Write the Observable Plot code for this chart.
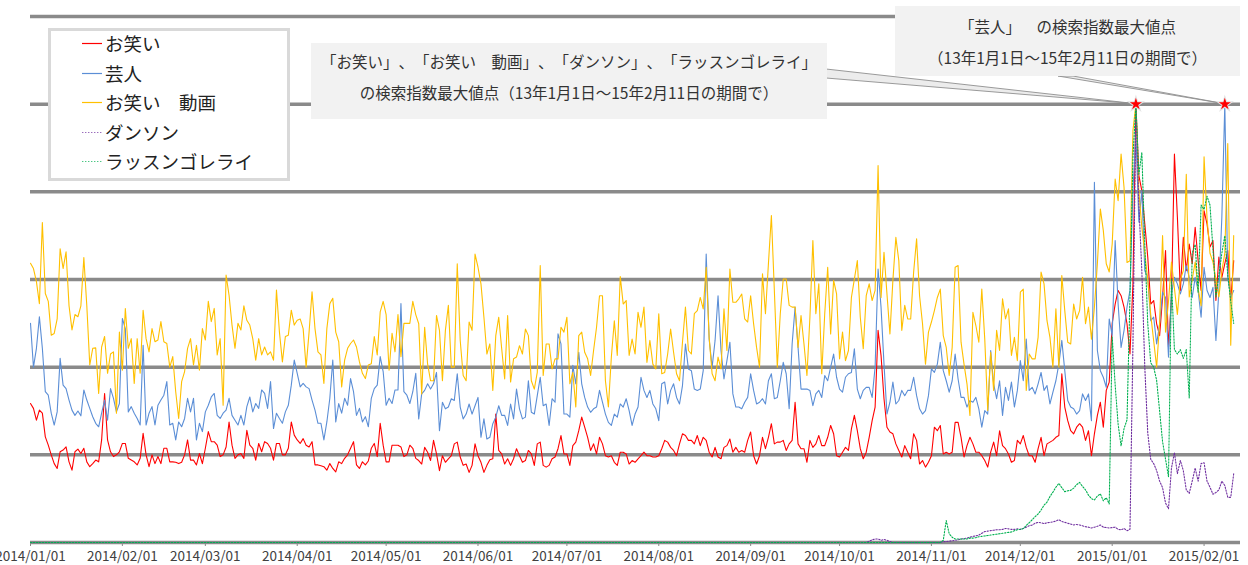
<!DOCTYPE html>
<html><head><meta charset="utf-8">
<script src="https://cdn.jsdelivr.net/npm/d3@7"></script>
<script src="https://cdn.jsdelivr.net/npm/@observablehq/plot@0.6"></script>
<style>
html,body{margin:0;padding:0;background:#fff;}
#wrap{position:relative;width:1248px;height:565px;overflow:hidden;font-family:"Noto Sans CJK JP","Noto Sans",sans-serif;text-spacing-trim:space-all;}
#wrap svg.plot{position:absolute;left:0;top:0;}
.legend{position:absolute;left:48px;top:28px;width:242px;height:153px;box-sizing:border-box;border:3px solid #d9d9d9;background:#fff;padding-left:31px;}
.legend .item{height:29.6px;display:flex;align-items:center;font-size:18.5px;color:#222;white-space:nowrap;}
.legend .item:first-child{margin-top:-2.8px;}
.legend .item svg{margin-right:3px;}
.ann{position:absolute;background:#f2f2f2;color:#333;font-size:15.5px;text-align:center;white-space:nowrap;text-spacing-trim:space-all;font-feature-settings:"palt" 0;}
.ann1{left:311px;top:43px;width:516px;height:76px;line-height:30.5px;padding-top:3px;box-sizing:border-box;}
.ann2{left:895px;top:6px;width:345px;height:70px;line-height:31px;padding-top:4.5px;box-sizing:border-box;}
</style></head><body><div id="wrap"></div>
<script>
const START = "2014/01/01";
const tickLabels = ["2014/01/01","2014/02/01","2014/03/01","2014/04/01","2014/05/01","2014/06/01","2014/07/01","2014/08/01","2014/09/01","2014/10/01","2014/11/01","2014/12/01","2015/01/01","2015/02/01"];
const gridValues = [0,20,40,60,80,100,120];
const seriesNames = ["お笑い","芸人","お笑い　動画","ダンソン","ラッスンゴレライ"];
const seriesColors = ["#ff0000","#5b8ed6","#ffc000","#7030a0","#00b050"];
const seriesDash = [null,null,null,"1.4 1.6","1.4 1.6"];
const annotation1 = ["「お笑い」、「お笑い　動画」、「ダンソン」、「ラッスンゴレライ」","の検索指数最大値点（13年1月1日～15年2月11日の期間で）"];
const annotation2 = ["「芸人」　の検索指数最大値点","（13年1月1日～15年2月11日の期間で）"];

// お笑い (daily, 2014/01/01 - 2015/02/11)
const owarai = [
31.7,30.6,27.9,30.2,29.5,24.1,22.2,20,18,16.9,
20.7,21.1,21.8,18.4,16.5,20.7,21.3,20.3,21.5,18.4,
17.3,18,18.8,18.4,23.4,34,23.4,20.7,19.6,20,
20.7,22.6,22.6,19.2,18.8,18.4,17.7,19.2,24.9,20,
17.3,20,18,19.6,18,21.5,21.5,18.4,18.4,18.3,
18,18.3,20,23.4,18.8,18.8,17.7,20.3,18,21.5,
25.3,23,23,22.2,19.6,20,21.8,27.5,22.2,19.2,
20,20.3,19.2,25.6,22.2,21.5,18.8,22.6,20.7,23,
22.6,21.5,18.8,22.6,22.6,20,20,21.5,27.5,24.5,
23.4,22.6,23.7,22.2,21.8,23,17.7,17.7,17.5,17.3,
16.5,18,16.9,16.1,18.4,18,19.2,20,21.5,23,
17.7,16.9,18.4,17.7,18.6,21.5,22.6,19.6,27.2,22.2,
18.4,18.4,22.2,22.2,22.2,21.8,19.6,20,22.2,21.5,
19.2,
18.7,17.9,21.7,20.6,18.7,23.3,20.2,16.4,19.8,18.3,
19.1,19.8,22.5,22.9,19.5,17.6,17.9,16.0,17.6,22.5,
19.8,18.3,16.0,17.6,18.9,19.1,29.3,21.0,20.2,17.9,
19.1,17.6,19.1,21.4,19.8,18.3,18.7,21.0,20.2,17.6,
22.5,22.9,17.6,17.2,17.6,19.1,19.5,21.4,24.4,20.2,
20.2,17.6,22.1,22.9,25.5,28.6,26.3,24.0,21.0,22.5,
20.2,24.0,22.5,19.8,19.5,19.8,18.3,17.6,20.6,20.6,
20.2,17.9,18.7,18.3,19.1,19.8,20.6,19.8,19.8,19.5,
19.5,19.8,21.4,23.3,22.9,21.7,21.0,19.8,22.5,24.8,
24.4,23.3,23.3,22.5,24.4,22.1,24.0,23.3,20.6,19.5,
21.7,19.5,19.1,21.7,22.1,23.6,20.6,21.7,20.6,21.0,
20.6,23.3,
25.2,19.8,17.9,19.8,24.0,21.4,24.0,27.1,22.5,22.9,
22.9,23.3,21.0,22.5,23.3,32.0,22.5,21.4,21.4,18.3,
23.3,21.7,22.5,24.4,22.1,22.1,24.0,26.7,24.8,19.8,
19.5,20.6,21.7,21.0,25.9,29.0,25.5,21.4,19.1,20.6,
24.0,27.8,30.9,48.4,42.7,32.8,26.3,25.2,24.8,22.5,
21.0,19.5,22.1,20.6,19.1,24.8,23.3,17.9,18.7,17.2,
18.3,19.8,26.3,25.5,26.7,20.2,20.6,20.2,20.6,27.4,
27.4,24.0,19.5,22.1,24.0,22.5,20.6,20.6,19.8,18.7,
17.2,20.6,22.9,19.8,25.5,22.1,21.4,20.2,18.3,18.7,
23.3,22.5,24.4,21.7,19.8,19.8,18.3,21.4,24.0,19.8,
22.5,22.9,23.3,24.0,24.4,38.5,30.9,27.8,25.5,24.8,
26.3,27.1,
26.3,23.3,25.5,19.8,24.8,29.0,32.0,26.3,34.7,36.6,
50,54.4,57.5,56.3,53.7,49.9,43.0,59.0,100,83.7,
80.3,72.7,65.1,54.4,55.2,49.9,47.2,55.9,66.6,44.5,
55.9,88.6,74.2,57.5,69.6,62.0,68.1,63.6,71.9,64.3,
57.5,75.7,72.7,67.4,68.9,55.2,65.1,60.5,63.6,66.6,
55.2,64.3];

// 芸人
const geinin = [
50,40,44.3,51.5,44.3,34.4,33.6,29.5,26.8,29.8,
42,35.9,35.1,32.5,30.2,29,30,28.9,34.8,32.5,
30.6,28.7,27.2,26.4,29.5,32.5,27.9,35.1,32.9,29.8,
31.7,51.1,48.8,29.8,31,29.5,28.3,26.8,45,26.8,
29.5,31,26.8,31.3,32.5,33.6,36.7,26.8,27.2,23.4,
27.5,26.4,28.3,32.9,29.8,32.9,23.4,27.2,25.3,29.8,
31.3,33.2,34,29,28.3,29.5,30.2,32.9,29,27.9,
26.8,29,26.8,31,33.2,29.8,31.7,30.6,34.8,34,
30.6,36.7,26,29.5,28.3,27.2,29.8,31.3,35.9,41.6,
38.6,35.5,36.3,35.5,35.1,32.5,30.2,27.2,27.2,23.4,
27.5,32.9,41.6,27.5,31.7,29.5,32.9,31.3,37.4,34.4,
29,30.6,27.5,28.7,26.4,32.9,35.1,35.9,42.4,39,
31.3,32.9,31.7,34.8,34.8,54.5,34.4,33.6,31.7,34.4,
38.6,
28.2,33.9,34.7,36.2,35.0,36.2,38.8,25.5,32.0,30.5,
30.9,32.8,32.4,38.5,30.9,28.2,29.3,31.6,29.3,31.2,
33.1,24.0,28.2,23.6,24.0,27.1,28.6,31.2,29.0,29.0,
26.7,31.6,28.2,35.0,30.5,28.2,28.6,36.9,29.7,29.3,
33.5,37.7,31.2,31.6,26.7,32.8,32.0,47.6,45.3,29.3,
29.3,28.6,40.4,36.2,43.4,36.2,33.1,30.9,29.7,30.5,
30.9,34.7,32.0,29.3,27.4,26.7,29.3,28.6,31.6,30.9,
32.8,30.1,26.7,29.3,30.9,37.7,34.7,33.1,34.7,31.6,
30.5,27.8,36.2,36.6,31.6,34.7,36.2,33.1,31.6,35.8,
45.3,39.6,39.2,35.0,34.7,35.0,39.2,65.8,46.4,40.0,
46.1,56.3,43.8,37.3,41.5,45.7,33.9,30.9,30.9,30.5,
32.0,33.1,
38.5,34.7,31.6,32.0,32.8,31.6,36.9,38.5,32.8,33.1,
36.9,41.1,38.5,30.5,45.3,53.7,44.5,35.0,35.0,35.0,
34.7,31.2,33.9,34.7,33.1,38.1,36.9,40.0,43.0,37.7,
35.0,34.3,37.7,38.5,38.8,44.2,35.0,32.8,34.7,35.4,
35.4,33.1,40.0,62.4,53.7,40.7,29.3,32.0,36.6,31.6,
32.4,34.7,33.5,34.7,34.7,37.7,33.5,30.5,29.3,30.1,
33.5,39.6,38.8,40.7,45.7,39.2,36.9,34.3,36.9,43.0,
37.3,33.1,33.1,30.9,32.4,32.0,33.1,30.5,26.3,30.1,
29.3,43.8,36.2,32.8,36.9,29.0,35.4,32.4,36.6,30.9,
34.7,41.5,36.9,46.4,34.7,35.4,33.9,36.2,38.8,34.7,
35.8,31.6,34.3,36.9,40.7,46.1,39.2,32.4,30.9,30.5,
29.3,30.1,
33.9,32.4,33.9,27.8,82.2,43.8,39.2,37.7,35.4,51.0,
47.2,68.9,54.4,44.5,48.4,53.7,57.5,80.3,93,73.1,
80.3,62.0,60.5,50.6,51.4,45.3,49.9,57.1,55.9,42.3,
56.7,60.5,59.0,56.7,59.0,63.2,60.5,55.9,60.5,57.5,
51.4,62.8,57.5,55.9,58.2,46.1,57.5,74.2,100,60.5,
55.9,57.5];

// お笑い　動画
const owaraiDouga = [
63.7,62.5,59.5,54.5,73,56.8,55,47.3,47.7,51,
67,62.5,66.3,54,48.5,52,51.5,54,65,54,
40.5,44.3,44.4,34,44.6,47,38.6,43,43.5,29.5,
48,39.3,53.4,44.3,46.5,36.3,46.5,38.6,53,46.5,
43.5,48.8,45.8,46.2,50.4,45.8,45.4,40,42.4,34.4,
28.3,36.7,39,44.3,46.5,40.5,45,39.3,48.8,46.2,
55,50.4,53.4,42.8,46.5,31.3,61,56.4,49.6,44.3,
50,48.5,54,50.7,49.6,46.5,41.6,46.5,42.8,44.6,
42.8,43.5,41.6,57.6,48,41.2,47,47.3,53,49.6,
50.7,51,48.8,40,48,57.2,48.8,43.5,42.8,36.3,
48.8,54.5,55.7,48,45.8,35.5,41.6,44.3,45.4,46.2,
44.6,41.2,38.6,37.4,40.5,40.8,47,42.8,52.6,55,
52,39.3,47.7,43.5,52,42.4,50,50,50,55,
52,
49.9,33.9,49.1,40.7,36.9,36.9,51.8,48.4,36.9,48.4,
54.1,40.0,40.0,63.6,46.1,38.1,36.9,50.3,48.4,65.8,
62.8,59.0,51.4,43.0,45.3,34.7,47.2,51.4,44.2,37.3,
51.8,36.6,41.9,42.3,44.9,43.0,48.7,47.2,36.9,35.0,
38.8,63.2,38.1,45.3,45.3,39.6,41.9,41.9,49.1,48.0,
51.4,36.2,38.8,30.9,47.2,48.0,43.4,41.9,38.1,43.8,
49.1,56.3,56.3,36.9,30.9,42.3,50.6,42.7,60.7,54.4,
55.2,42.7,46.4,43.0,52.5,49.1,53.7,41.1,46.1,40.7,
39.6,52.2,38.5,38.8,43.0,48.7,43.4,38.5,36.9,45.7,
53.7,43.8,43.0,52.2,52.9,55.9,53.3,62.8,46.8,38.5,
36.9,42.3,39.6,53.3,43.8,62.4,54.8,54.8,55.6,56.7,
51.0,50.3,
56.3,49.9,44.5,40.0,61.3,52.2,63.6,74.6,57.5,40.0,
52.2,60.1,60.1,54.1,53.7,53.7,44.5,51.8,45.3,38.1,
51.4,68.9,52.2,59.0,38.5,52.2,62.8,47.6,59.8,56.7,
41.9,48.0,41.5,43.8,55.9,60.1,64.3,51.4,44.2,56.3,
59.0,55.2,57.5,86.0,55.9,66.2,56.7,47.6,59.8,69.6,
64.3,48.4,54.1,51.0,51.0,61.7,69.3,56.3,49.9,40.7,
48.0,50.3,52.9,55.9,57.8,47.2,44.5,38.1,44.5,62.8,
63.2,45.7,40.7,36.2,29.0,52.5,49.5,45.7,57.8,46.4,
30.1,43.4,34.7,48.4,43.8,55.6,51.0,53.3,42.7,46.8,
41.5,57.1,57.8,34.7,43.0,41.9,41.9,46.8,61.7,59.0,
50.6,46.8,40.0,53.3,40.0,60.9,52.9,45.7,45.3,54.4,
51.0,52.9,
60.5,49.9,53.7,46.4,53.7,63.6,76.1,71.2,63.6,61.7,
68.1,82.9,78.0,88.6,81.0,63.9,64.3,94.0,100,80,
72,66,60,52,46,40,50,70,48,55,
64,58,52,60,62,84,56,60,64,58,
54,88,74,66,64,60,56,62,66,91,
45,70];

// ダンソン
const danson = [
0,0,0,0,0,0,0,0,0,0,0,0,0,0,0,0,0,0,0,0,
0,0,0,0,0,0,0,0,0,0,0,0,0,0,0,0,0,0,0,0,
0,0,0,0,0,0,0,0,0,0,0,0,0,0,0,0,0,0,0,0,
0,0,0,0,0,0,0,0,0,0,0,0,0,0,0,0,0,0,0,0,
0,0,0,0,0,0,0,0,0,0,0,0,0,0,0,0,0,0,0,0,
0,0,0,0,0,0,0,0,0,0,0,0,0,0,0,0,0,0,0,0,
0,0,0,0,0,0,0,0,0,0,0,0,0,0,0,0,0,0,0,0,
0,0,0,0,0,0,0,0,0,0,0,0,0,0,0,0,0,0,0,0,
0,0,0,0,0,0,0,0,0,0,0,0,0,0,0,0,0,0,0,0,
0,0,0,0,0,0,0,0,0,0,0,0,0,0,0,0,0,0,0,0,
0,0,0,0,0,0,0,0,0,0,0,0,0,0,0,0,0,0,0,0,
0,0,0,0,0,0,0,0,0,0,0,0,0,0,0,0,0,0,0,0,
0,0,0,0,0,0,0,0,0,0,0,0,0,0,0,0,0,0,0,0,
0,0,0,0,0,0,0,0,0,0,0,0,0,0,0,0,0,0,0,0,
0,0,0,
0.3,0.6,0.8,0.8,0.5,0.7,0.5,0.2,
0,0,0,0,0,0,0,0,0,0,0,0,0,0,0,0,0,
0.2,0.2,0.3,0.4,0.5,0.6,0.8,0.9,1.0,1.2,
1.4,1.5,1.7,2.1,2.5,2.6,2.7,2.8,2.9,2.9,
3.0,3.2,3.1,3.0,3.0,3.1,3.0,3.2,3.5,3.8,
4.0,4.4,4.6,4.5,4.3,4.5,4.6,4.7,4.9,5.2,
4.8,4.6,4.4,4.2,4.0,4.1,4.0,3.8,3.6,3.5,
3.3,3.5,3.7,4.0,3.5,3.4,3.3,3.4,3.5,3.0,
2.9,3.2,2.7,3.0,
45,100,77,62,40,25,19,18,16.4,14,
12.5,9,7.7,17,20.5,15.7,18.7,16.4,12,11.2,
14,17,14,18,18.2,14,12.6,11,11.4,12,
14,13,10.3,10.3,15.7];

// ラッスンゴレライ
const rassun = [
0,0,0,0,0,0,0,0,0,0,0,0,0,0,0,0,0,0,0,0,
0,0,0,0,0,0,0,0,0,0,0,0,0,0,0,0,0,0,0,0,
0,0,0,0,0,0,0,0,0,0,0,0,0,0,0,0,0,0,0,0,
0,0,0,0,0,0,0,0,0,0,0,0,0,0,0,0,0,0,0,0,
0,0,0,0,0,0,0,0,0,0,0,0,0,0,0,0,0,0,0,0,
0,0,0,0,0,0,0,0,0,0,0,0,0,0,0,0,0,0,0,0,
0,0,0,0,0,0,0,0,0,0,0,0,0,0,0,0,0,0,0,0,
0,0,0,0,0,0,0,0,0,0,0,0,0,0,0,0,0,0,0,0,
0,0,0,0,0,0,0,0,0,0,0,0,0,0,0,0,0,0,0,0,
0,0,0,0,0,0,0,0,0,0,0,0,0,0,0,0,0,0,0,0,
0,0,0,0,0,0,0,0,0,0,0,0,0,0,0,0,0,0,0,0,
0,0,0,0,0,0,0,0,0,0,0,0,0,0,0,0,0,0,0,0,
0,0,0,0,0,0,0,0,0,0,0,0,0,0,0,0,0,0,0,0,
0,0,0,0,0,0,0,0,0,0,0,0,0,0,0,0,0,0,0,0,
0,0,0,0,0,0,0,0,0,0,0,0,0,0,0,0,0,0,0,0,
0,0,0,0,0,0,0,0,
0.5,5.0,2.0,1.2,0.8,0.8,0.8,0.8,0.8,1.0,
1.0,1.1,1.3,1.4,1.5,1.6,1.7,1.8,1.9,2.0,
2.1,2.2,2.3,2.4,2.7,2.9,3.0,3.2,3.9,4.5,
5.2,5.9,6.5,7.4,8.5,9.2,10.5,11.5,12.6,13.5,
12.5,11.6,11.8,11.9,12.4,13.2,13.7,12.8,12.0,10.8,
10.0,9.7,10.6,11.1,9.5,10.2,8.8,
47,36,27,22,26,28,56,88,100,84,
89,68,50,41,40,37,30,23,19,15,
60,44,43,44,42,44,33,66,68,57,
77,76,79,77,67,56,61,66,70,61,
55,50];

const parse = d3.utcParse("%Y/%m/%d");
const start = parse(START);
const seriesValues = [owarai, geinin, owaraiDouga, danson, rassun];
const rows = seriesValues.map((vals, s) => vals.map((v, i) => ({date: d3.utcDay.offset(start, i), value: v, series: seriesNames[s]})));
const endDate = d3.utcDay.offset(start, owarai.length - 1);
// star markers at the maxima of お笑い (shared peak day) and 芸人
const peaks = [owarai, geinin].map(vals => { const i = d3.maxIndex(vals); return {date: d3.utcDay.offset(start, i), value: vals[i]}; });

const chart = Plot.plot({
  width: 1248, height: 565,
  marginLeft: 30, marginRight: 8, marginTop: 16, marginBottom: 23,
  x: {type: "utc", domain: [start, endDate], range: [30, 1233.2]},
  y: {domain: [0, 120], axis: null},
  style: {fontFamily: '"Noto Sans CJK JP","Noto Sans",sans-serif', background: "transparent", overflow: "visible"},
  marks: [
    Plot.ruleY(gridValues, {stroke: "#8a8a8a", strokeWidth: 3.5}),
    Plot.axisX(tickLabels.map(parse), {tickSize: 4, tickPadding: 5, tickFormat: d3.utcFormat("%Y/%m/%d"), fontSize: 13.5, stroke: "#8a8a8a", fill: "#404040"}),
    ...rows.map((r, s) => Plot.lineY(r, {x: "date", y: "value", stroke: seriesColors[s], strokeWidth: 1.1, strokeDasharray: seriesDash[s] || undefined})),
    Plot.dot(peaks, {x: "date", y: "value", symbol: "star", fill: "#ff0000", stroke: "#e4e4e4", strokeWidth: 2, paintOrder: "stroke", r: 3.8})
  ]
});
chart.classList.add("plot");
const wrap = document.getElementById("wrap");
wrap.appendChild(chart);

// callout wedges from annotation boxes to the star markers
const sx = chart.scale("x"), sy = chart.scale("y");
const calloutBases = [[[826, 69], [826, 78]], [[1058, 76], [1073, 76]]];
const g = d3.select(chart).insert("g", 'g[aria-label="dot"]');
calloutBases.forEach((base, k) => {
  const tip = [sx.apply(peaks[k].date), sy.apply(peaks[k].value)];
  g.append("polygon").attr("points", [base[0], tip, base[1]].map(p => p.join(",")).join(" "))
    .attr("fill", "#ececec").attr("stroke", "#8f8f8f").attr("stroke-width", 0.9);
});

// legend
const legend = document.createElement("div");
legend.className = "legend";
seriesNames.forEach((name, s) => {
  const item = document.createElement("div");
  item.className = "item";
  item.innerHTML = `<svg width="20" height="10"><line x1="0" x2="20" y1="5.5" y2="5.5" stroke="${seriesColors[s]}" stroke-width="1.2" ${seriesDash[s] ? `stroke-dasharray="${seriesDash[s]}" stroke-opacity="0.7"` : ""}/></svg><span>${name}</span>`;
  legend.appendChild(item);
});
wrap.appendChild(legend);

// annotation boxes
[[annotation1, "ann ann1"], [annotation2, "ann ann2"]].forEach(([lines, cls]) => {
  const box = document.createElement("div");
  box.className = cls;
  box.innerHTML = lines.map(t => `<div>${t}</div>`).join("");
  wrap.appendChild(box);
});
</script></body></html>
